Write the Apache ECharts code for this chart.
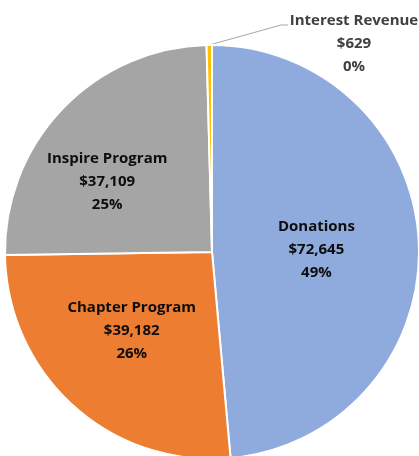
<!DOCTYPE html>
<html><head><meta charset="utf-8">
<script src="https://cdn.jsdelivr.net/npm/echarts@6/dist/echarts.min.js"></script>
<style>html,body{margin:0;padding:0;background:#fff}#c{width:419px;height:456px}</style>
</head><body><div id="c"></div>
<script>
const categories = ['Donations', 'Chapter Program', 'Inspire Program', 'Interest Revenue'];
const values = [72645, 39182, 37109, 629];
const colors = ['#8FAADC', '#ED7D31', '#A5A5A5', '#FFC000'];
const total = values.reduce((a, b) => a + b, 0);
const fmt = v => '$' + v.toLocaleString('en-US');
const chart = echarts.init(document.getElementById('c'));
const data = categories.map((n, i) => {
  const d = { name: n, value: values[i], itemStyle: { color: colors[i] } };
  if (i === 3) {
    d.label = { position: 'outside', color: '#404040' };
    d.labelLine = { show: true, length: 20, length2: 10, lineStyle: { color: '#A6A6A6', width: 1 } };
  }
  return d;
});
chart.setOption({
  animation: false,
  series: [{
    type: 'pie',
    center: [212, 252],
    radius: [0, 207],
    startAngle: 90,
    clockwise: true,
    data: data,
    itemStyle: { borderColor: '#fff', borderWidth: 2 },
    label: {
      show: true,
      position: 'inside',
      fontFamily: 'Open Sans',
      fontWeight: 'bold',
      fontSize: 15,
      lineHeight: 23,
      color: '#0d0d0d',
      align: 'center',
      formatter: p => p.name + '\n' + fmt(p.value) + '\n' + Math.round(p.value / total * 100) + '%'
    },
    labelLine: { show: false },
    labelLayout: function (p) {
      const offs = [[-2, 3], [-9, 0], [-28, 3]];
      if (p.dataIndex === 3) {
        const start = p.labelLinePoints ? p.labelLinePoints[0] : [210, 44];
        return {
          x: 354, y: 44, align: 'center', verticalAlign: 'middle',
          labelLinePoints: [start, [281, 25], [288, 25]]
        };
      }
      return { dx: offs[p.dataIndex][0], dy: offs[p.dataIndex][1] };
    }
  }]
});
</script></body></html>
